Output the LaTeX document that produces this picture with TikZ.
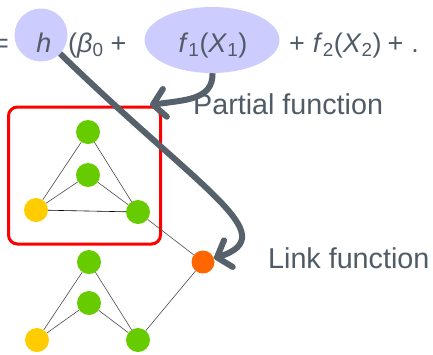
\documentclass[tikz,border=0pt]{standalone}
\usepackage{fontspec}
\setmainfont{Liberation Sans}
\usepackage{tikz}
\usetikzlibrary{arrows.meta,positioning,shapes.geometric}
\definecolor{hilite}{HTML}{CCCCFF}
\definecolor{textgray}{HTML}{4F5B66}
\definecolor{arrowgray}{HTML}{56616C}
\definecolor{leafgreen}{HTML}{66CC00}
\definecolor{rootyellow}{HTML}{FFCC00}
\definecolor{linkorange}{HTML}{FF6600}

\begin{document}
\begin{tikzpicture}[
  x=1pt, y=-1pt,
  formula/.style={font=\fontsize{27}{30}\selectfont, text=textgray, inner sep=0pt},
  lbl/.style={font=\fontsize{28.7}{30}\selectfont, text=textgray, inner sep=0pt},
  hl/.style={fill=hilite, inner sep=0pt},
  vtx/.style={circle, minimum size=24pt, inner sep=0pt},
  gnode/.style={vtx, fill=leafgreen},
  ynode/.style={vtx, fill=rootyellow},
  onode/.style={vtx, minimum size=23pt, fill=linkorange},
  edge/.style={draw=black!70, line width=0.6pt},
  arr/.style={-{Straight Barb[length=12pt, width=28pt, round]}, line width=6pt, draw=arrowgray}
]
  \useasboundingbox (0,0) rectangle (433,354);

  \node[formula, anchor=base east] (eq) at (9,52) {=};
  \node[hl, circle, minimum size=53pt] (hc) at (41,35) {};
  \node[formula, anchor=base] (htxt) at (44,52) {\textit{h}};
  \node[formula, anchor=base west] (lpar) at (68,52) {(\textit{β}\textsubscript{0}\hspace{7pt}+};
  \node[hl, ellipse, minimum width=135pt, minimum height=66pt] (fone) at (212,40) {};
  \node[formula, anchor=base] (fonetxt) at (213,52) {\textit{f}\textsubscript{1}(\textit{X}\textsubscript{1})};
  \node[formula, anchor=base west] (rest) at (289,52) {+\hspace{8pt}\textit{f}\textsubscript{2}(\textit{X}\textsubscript{2})\hspace{6pt}+\hspace{8pt}.};

  \node[draw=red, line width=3pt, rounded corners=9pt, minimum width=152pt, minimum height=137pt] (pbox) at (84.5,175.5) {};

  \node[gnode] (t1) at (88,132) {};
  \node[gnode] (m1) at (88,175) {};
  \node[ynode] (y1) at (36,210) {};
  \node[gnode] (r1) at (138,212) {};
  \node[gnode] (t2) at (89,262) {};
  \node[gnode] (m2) at (89,303) {};
  \node[ynode] (y2) at (37,340) {};
  \node[gnode] (r2) at (138,340) {};
  \node[onode] (lk) at (203,262) {};

  \draw[edge] (t1) -- (y1);
  \draw[edge] (t1) -- (r1);
  \draw[edge] (m1) -- (y1);
  \draw[edge] (m1) -- (r1);
  \draw[edge, draw=black] (y1) -- (r1);
  \draw[edge] (r1) -- (lk);
  \draw[edge] (t2) -- (y2);
  \draw[edge] (t2) -- (r2);
  \draw[edge] (m2) -- (y2);
  \draw[edge] (m2) -- (r2);
  \draw[edge] (r2) -- (lk);

  \node[lbl, anchor=west] (plbl) at (193,104) {Partial function};
  \node[lbl, anchor=west] (llbl) at (268,258) {Link function};

  \coordinate (ptip) at (150,105);
  \draw[arr] (fone) .. controls (213,100) and (185,100) .. (ptip);
  \draw[arr] (hc) .. controls (200,190) and (285,235) .. (lk);
\end{tikzpicture}
\end{document}
